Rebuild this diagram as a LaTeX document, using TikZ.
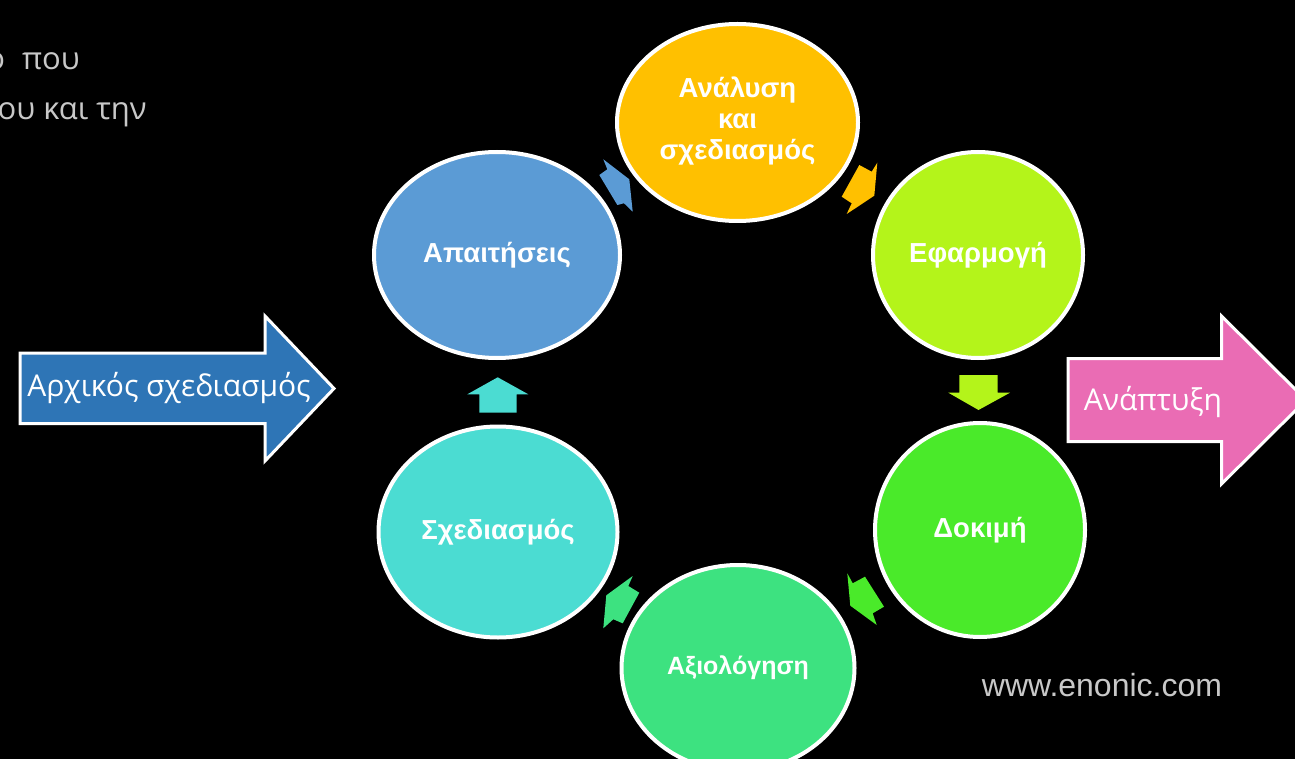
\documentclass[tikz,border=0pt]{standalone}
\usepackage{fontspec}
\setmainfont{Liberation Sans}
\newfontfamily\labelfont{Open Sans}
\usetikzlibrary{shapes.geometric}

\definecolor{cReq}{HTML}{5B9BD5}
\definecolor{cAna}{HTML}{FFC000}
\definecolor{cImp}{HTML}{B4F41A}
\definecolor{cTest}{HTML}{4AEA2A}
\definecolor{cEval}{HTML}{3DE280}
\definecolor{cDes}{HTML}{4BDCD2}
\definecolor{cStart}{HTML}{2E75B6}
\definecolor{cDev}{HTML}{EA6CB4}
\definecolor{cNote}{HTML}{C8C8C8}

\begin{document}
\begin{tikzpicture}[x=1pt,y=-1pt,
  stage/.style={ellipse, draw=white, line width=4pt, text=white,
    font=\bfseries\fontsize{27.5}{31}\selectfont, align=center, inner sep=0pt},
  bigarrow/.style={draw=white, line width=3pt, line join=miter},
  arrowtext/.style={text=white, font=\labelfont\fontsize{30}{36}\selectfont, inner sep=0pt},
  notetext/.style={text=cNote, font=\labelfont\fontsize{31}{36}\selectfont, inner sep=0pt},
]
\useasboundingbox (0,0) rectangle (1295,759);
\fill[black] (0,0) rectangle (1295,759);
\begin{scope}
\clip (0,0) rectangle (1295,759);

% heading text, partly off the page
\node[notetext, anchor=base east] (note1) at (80,70) {ο\hspace{17pt}που};
\node[notetext, anchor=base east] (note2) at (147,120) {ου και την};

% stages of the cycle
\node[stage, fill=cReq,  minimum width=246pt, minimum height=206pt] (req)  at (497,255)   {Απαιτήσεις};
\node[stage, fill=cAna,  minimum width=241pt, minimum height=197pt] (ana)  at (737.5,122.5)
  {\raisebox{4pt}{\begin{tabular}{@{}c@{}}Ανάλυση\\και\\σχεδιασμός\end{tabular}}};
\node[stage, fill=cImp,  minimum width=210pt, minimum height=206pt] (imp)  at (978,255)   {Εφαρμογή};
\node[stage, fill=cTest, minimum width=210pt, minimum height=214pt] (test) at (980,530)   {Δοκιμή};
\node[stage, fill=cEval, minimum width=233pt, minimum height=206pt,
      font=\bfseries\fontsize{25}{30}\selectfont] (eval) at (738,668) {Αξιολόγηση};
\node[stage, fill=cDes,  minimum width=239pt, minimum height=211pt] (des)  at (498,532)   {Σχεδιασμός};

% small block arrows between stages
\fill[cReq] (603.3,159.3) -- (607.3,169.3) -- (599.3,175) -- (617.3,205) -- (624,203.3)
  -- (632.7,211.7) -- (629.3,179.3) -- cycle;
\fill[cAna] (877.3,162.7) -- (871.7,171.7) -- (859.3,165) -- (841.7,196.7) -- (851.7,203.3)
  -- (846.7,214) -- (874.3,195.7) -- cycle;
\fill[cImp] (959.3,375) -- (997.7,375) -- (997.7,392.7) -- (1010,392.7) -- (978.5,410)
  -- (948.3,392.7) -- (959.3,392.7) -- cycle;
\fill[cTest] (847.3,573.3) -- (852.7,583.3) -- (865,576.7) -- (884,606.7) -- (872.7,613.3)
  -- (876.7,625) -- (850.3,605.7) -- cycle;
\fill[cEval] (632.7,576) -- (628.3,586) -- (639.3,592.7) -- (622.7,623.3) -- (613.3,619.3)
  -- (603.3,628.3) -- (606.3,595.3) -- cycle;
\fill[cDes] (497.7,377.3) -- (528.3,394.3) -- (516.7,394.3) -- (516.7,412.7) -- (479.3,412.7)
  -- (479.3,394.3) -- (467.3,394.3) -- cycle;

% entry and exit arrows
\draw[bigarrow, fill=cStart] (20,353) -- (265,353) -- (265,316) -- (334,388.5)
  -- (265,461) -- (265,423.5) -- (20,423.5) -- cycle;
\node[arrowtext] (start) at (169,388) {Αρχικός σχεδιασμός};

\draw[bigarrow, fill=cDev] (1068,358.5) -- (1221.5,358.5) -- (1221.5,316) -- (1306,400)
  -- (1221.5,484) -- (1221.5,441.5) -- (1068,441.5) -- cycle;
\node[arrowtext] (dev) at (1153,402) {Ανάπτυξη};

% source
\node[text=cNote, font=\fontsize{32}{36}\selectfont, inner sep=0pt] (src) at (1102,685) {www.enonic.com};
\end{scope}
\end{tikzpicture}
\end{document}
